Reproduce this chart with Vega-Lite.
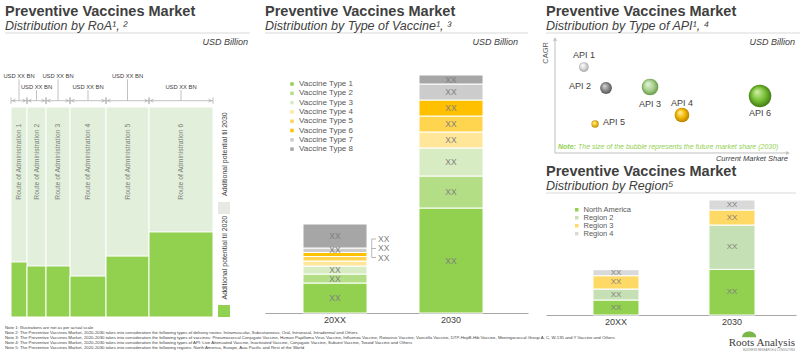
{
  "$schema": "https://vega.github.io/schema/vega-lite/v6.json",
  "background": "#ffffff",
  "padding": {"left": 3, "top": 3, "right": 0, "bottom": 0},
  "spacing": 0,
  "resolve": {"scale": {"color": "independent"}, "legend": {"color": "independent"}},
  "config": {
    "view": {"stroke": null},
    "font": "Liberation Sans",
    "title": {"anchor": "start", "frame": "group", "font": "Liberation Sans", "fontSize": 14.5, "fontWeight": "bold", "color": "#404040", "subtitleFont": "Liberation Sans", "subtitleFontSize": 12.5, "subtitleFontStyle": "italic", "subtitleColor": "#404040", "subtitlePadding": 1, "offset": -1},
    "legend": {"labelFont": "Liberation Sans", "padding": 0}
  },
  "vconcat": [
    {
      "spacing": 13,
      "resolve": {"scale": {"color": "independent"}, "legend": {"color": "independent"}},
      "hconcat": [
        {
          "width": 245,
          "height": 284,
          "title": {"text": "Preventive Vaccines Market", "subtitle": "Distribution by RoA¹, ²"},
          "data": {"values": [
            {"route": "Route of Administration 1", "market_size": 16, "potential_2030": 100, "share_2020": 26.2},
            {"route": "Route of Administration 2", "market_size": 19, "potential_2030": 100, "share_2020": 24.3},
            {"route": "Route of Administration 3", "market_size": 24, "potential_2030": 100, "share_2020": 24.3},
            {"route": "Route of Administration 4", "market_size": 36, "potential_2030": 100, "share_2020": 19.5},
            {"route": "Route of Administration 5", "market_size": 43, "potential_2030": 100, "share_2020": 29.0},
            {"route": "Route of Administration 6", "market_size": 64, "potential_2030": 100, "share_2020": 40.5}
          ]},
          "transform": [
            {"stack": "market_size", "groupby": [], "sort": [{"field": "route", "order": "ascending"}], "as": ["x0", "x1"]},
            {"calculate": "(datum.x0 + datum.x1) / 2", "as": "xmid"}
          ],
          "layer": [
            {"mark": {"type": "rect", "color": "#e2efda", "stroke": "#ffffff", "strokeWidth": 1},
             "encoding": {
               "x": {"field": "x0", "type": "quantitative", "scale": {"domain": [-6, 239], "nice": false, "zero": false}, "axis": null},
               "x2": {"field": "x1"},
               "y": {"field": "potential_2030", "type": "quantitative", "scale": {"domain": [0, 135.24], "nice": false, "zero": false}, "axis": null},
               "y2": {"datum": 0}}},
            {"mark": {"type": "rect", "color": "#92d050", "stroke": "#ffffff", "strokeWidth": 1},
             "encoding": {
               "x": {"field": "x0", "type": "quantitative", "axis": null},
               "x2": {"field": "x1"},
               "y": {"field": "share_2020", "type": "quantitative", "axis": null},
               "y2": {"datum": 0}}},
            {"mark": {"type": "text", "angle": 270, "align": "right", "baseline": "middle", "fontSize": 6.8, "color": "#808080"},
             "encoding": {
               "x": {"field": "xmid", "type": "quantitative", "axis": null},
               "y": {"datum": 92, "type": "quantitative", "axis": null},
               "text": {"field": "route"}}},
            {"mark": {"type": "rule", "color": "#a6a6a6", "strokeWidth": 0.7},
             "encoding": {
               "x": {"field": "x0", "type": "quantitative", "axis": null},
               "x2": {"field": "x1"},
               "y": {"datum": 103, "type": "quantitative", "axis": null}}},
            {"mark": {"type": "rule", "color": "#a6a6a6", "strokeWidth": 0.7},
             "encoding": {
               "x": {"field": "x0", "type": "quantitative", "axis": null},
               "y": {"datum": 101.4, "type": "quantitative", "axis": null},
               "y2": {"datum": 104.6}}},
            {"mark": {"type": "rule", "color": "#a6a6a6", "strokeWidth": 0.7},
             "encoding": {
               "x": {"field": "x1", "type": "quantitative", "axis": null},
               "y": {"datum": 101.4, "type": "quantitative", "axis": null},
               "y2": {"datum": 104.6}}},
            {"mark": {"type": "point", "shape": "M1,-1L-1,0L1,1", "filled": false, "opacity": 1, "size": 9, "stroke": "#a6a6a6", "strokeWidth": 0.7, "xOffset": 3},
             "encoding": {
               "x": {"field": "x0", "type": "quantitative", "axis": null},
               "y": {"datum": 103, "type": "quantitative", "axis": null}}},
            {"mark": {"type": "point", "shape": "M-1,-1L1,0L-1,1", "filled": false, "opacity": 1, "size": 9, "stroke": "#a6a6a6", "strokeWidth": 0.7, "xOffset": -3},
             "encoding": {
               "x": {"field": "x1", "type": "quantitative", "axis": null},
               "y": {"datum": 103, "type": "quantitative", "axis": null}}},
            {"transform": [{"filter": "indexof(['Route of Administration 1','Route of Administration 3','Route of Administration 5'], datum.route) >= 0"}],
             "mark": {"type": "rule", "color": "#a6a6a6", "strokeWidth": 0.7},
             "encoding": {
               "x": {"field": "xmid", "type": "quantitative", "axis": null},
               "y": {"datum": 103, "type": "quantitative", "axis": null},
               "y2": {"datum": 113.2}}},
            {"transform": [{"filter": "indexof(['Route of Administration 1','Route of Administration 3','Route of Administration 5'], datum.route) < 0"}],
             "mark": {"type": "rule", "color": "#a6a6a6", "strokeWidth": 0.7},
             "encoding": {
               "x": {"field": "xmid", "type": "quantitative", "axis": null},
               "y": {"datum": 103, "type": "quantitative", "axis": null},
               "y2": {"datum": 108}}},
            {"transform": [{"filter": "indexof(['Route of Administration 1','Route of Administration 3','Route of Administration 5'], datum.route) >= 0"}],
             "mark": {"type": "text", "text": "USD XX BN", "fontSize": 5.8, "color": "#404040", "baseline": "middle"},
             "encoding": {
               "x": {"field": "xmid", "type": "quantitative", "axis": null},
               "y": {"datum": 114.8, "type": "quantitative", "axis": null}}},
            {"transform": [{"filter": "indexof(['Route of Administration 1','Route of Administration 3','Route of Administration 5'], datum.route) < 0"}],
             "mark": {"type": "text", "text": "USD XX BN", "fontSize": 5.8, "color": "#404040", "baseline": "middle"},
             "encoding": {
               "x": {"field": "xmid", "type": "quantitative", "axis": null},
               "y": {"datum": 109.5, "type": "quantitative", "axis": null}}},
            {"data": {"values": [{}]},
             "mark": {"type": "rect", "color": "#e7e9e4"},
             "encoding": {
               "x": {"datum": 207, "type": "quantitative", "axis": null},
               "x2": {"datum": 219},
               "y": {"datum": 49, "type": "quantitative", "axis": null},
               "y2": {"datum": 54.8}}},
            {"data": {"values": [{}]},
             "mark": {"type": "rect", "color": "#92d050"},
             "encoding": {
               "x": {"datum": 207, "type": "quantitative", "axis": null},
               "x2": {"datum": 219},
               "y": {"datum": 0, "type": "quantitative", "axis": null},
               "y2": {"datum": 5.7}}},
            {"data": {"values": [{}]},
             "mark": {"type": "text", "text": "Additional potential til 2030", "angle": 270, "align": "right", "baseline": "middle", "fontSize": 7, "color": "#404040"},
             "encoding": {
               "x": {"datum": 214, "type": "quantitative", "axis": null},
               "y": {"datum": 97.5, "type": "quantitative", "axis": null}}},
            {"data": {"values": [{}]},
             "mark": {"type": "text", "text": "Additional potential til 2020", "angle": 270, "align": "right", "baseline": "middle", "fontSize": 7, "color": "#404040"},
             "encoding": {
               "x": {"datum": 214, "type": "quantitative", "axis": null},
               "y": {"datum": 48.2, "type": "quantitative", "axis": null}}},
            {"data": {"values": [{}]},
             "mark": {"type": "rule", "color": "#d9d9d9", "strokeWidth": 1},
             "encoding": {
               "x": {"datum": -6, "type": "quantitative", "axis": null},
               "x2": {"datum": 239},
               "y": {"datum": 135.24, "type": "quantitative", "axis": null}}},
            {"data": {"values": [{}]},
             "mark": {"type": "text", "text": "USD Billion", "align": "right", "baseline": "middle", "fontSize": 9, "fontStyle": "italic", "color": "#404040", "dy": 9},
             "encoding": {
               "x": {"datum": 237, "type": "quantitative", "axis": null},
               "y": {"datum": 135.24, "type": "quantitative", "axis": null}}}
          ]
        },
        {
          "width": 263,
          "height": 280,
          "title": {"text": "Preventive Vaccines Market", "subtitle": "Distribution by Type of Vaccine¹, ³"},
          "layer": [
            {
              "data": {"values": [
                {"year": "20XX", "type": "Vaccine Type 1", "value": 30},
                {"year": "20XX", "type": "Vaccine Type 2", "value": 9},
                {"year": "20XX", "type": "Vaccine Type 3", "value": 8},
                {"year": "20XX", "type": "Vaccine Type 4", "value": 5},
                {"year": "20XX", "type": "Vaccine Type 5", "value": 4.5},
                {"year": "20XX", "type": "Vaccine Type 6", "value": 4},
                {"year": "20XX", "type": "Vaccine Type 7", "value": 4.5},
                {"year": "20XX", "type": "Vaccine Type 8", "value": 24},
                {"year": "2030", "type": "Vaccine Type 1", "value": 105},
                {"year": "2030", "type": "Vaccine Type 2", "value": 32},
                {"year": "2030", "type": "Vaccine Type 3", "value": 28},
                {"year": "2030", "type": "Vaccine Type 4", "value": 16},
                {"year": "2030", "type": "Vaccine Type 5", "value": 16},
                {"year": "2030", "type": "Vaccine Type 6", "value": 16},
                {"year": "2030", "type": "Vaccine Type 7", "value": 16},
                {"year": "2030", "type": "Vaccine Type 8", "value": 9}
              ]},
              "transform": [
                {"stack": "value", "groupby": ["year"], "sort": [{"field": "type", "order": "ascending"}], "as": ["y0", "y1"]},
                {"calculate": "(datum.y0 + datum.y1) / 2", "as": "ymid"}
              ],
              "layer": [
                {"mark": {"type": "bar", "stroke": "#ffffff", "strokeWidth": 1},
                 "encoding": {
                   "x": {"field": "year", "type": "nominal", "sort": ["20XX", "2030"], "scale": {"paddingInner": 0.448, "paddingOuter": 0.3576, "align": 0.458},
                         "axis": {"title": null, "domain": true, "domainColor": "#a6a6a6", "ticks": false, "labelAngle": 0, "labelFont": "Liberation Sans", "labelFontSize": 9, "labelColor": "#404040", "labelPadding": 2.5}},
                   "y": {"field": "y0", "type": "quantitative", "scale": {"domain": [0, 280], "nice": false, "zero": false}, "axis": null},
                   "y2": {"field": "y1"},
                   "color": {"field": "type", "type": "nominal",
                     "scale": {"domain": ["Vaccine Type 1", "Vaccine Type 2", "Vaccine Type 3", "Vaccine Type 4", "Vaccine Type 5", "Vaccine Type 6", "Vaccine Type 7", "Vaccine Type 8"],
                               "range": ["#92d050", "#b4de86", "#d8ecc4", "#ffe699", "#ffd54f", "#ffc000", "#cccccc", "#a6a6a6"]},
                     "legend": {"title": null, "orient": "none", "legendX": 23, "legendY": 47, "symbolType": "square", "symbolSize": 12, "symbolStrokeWidth": 0, "labelFontSize": 8, "labelColor": "#595959", "rowPadding": 1.3, "labelOffset": 3, "padding": 0}}}},
                {"transform": [{"filter": "datum.year == '2030' || indexof(['Vaccine Type 4','Vaccine Type 5','Vaccine Type 6'], datum.type) < 0"}],
                 "mark": {"type": "text", "text": "XX", "fontSize": 8.5, "color": "#7f7f7f", "baseline": "middle"},
                 "encoding": {
                   "x": {"field": "year", "type": "nominal", "sort": ["20XX", "2030"]},
                   "y": {"field": "ymid", "type": "quantitative", "axis": null}}}
              ]
            },
            {"data": {"values": [{}]},
             "mark": {"type": "rule", "color": "#d9d9d9", "strokeWidth": 1},
             "encoding": {
               "x": {"value": 0},
               "x2": {"value": "width"},
               "y": {"datum": 280, "type": "quantitative", "axis": null}}},
            {"data": {"values": [{}]},
             "mark": {"type": "text", "text": "USD Billion", "align": "right", "baseline": "middle", "fontSize": 9, "fontStyle": "italic", "color": "#404040", "dy": 9, "dx": -10},
             "encoding": {
               "x": {"value": "width"},
               "y": {"datum": 280, "type": "quantitative", "axis": null}}},
            {"data": {"values": [{}]},
             "mark": {"type": "rule", "color": "#a6a6a6", "strokeWidth": 0.8, "xOffset": 36.7},
             "encoding": {
               "x": {"datum": "20XX", "type": "nominal"},
               "y": {"datum": 55.5, "type": "quantitative", "axis": null},
               "y2": {"datum": 74}}},
            {"data": {"values": [{}]},
             "mark": {"type": "rule", "color": "#a6a6a6", "strokeWidth": 0.8, "xOffset": 36.7, "x2Offset": 41},
             "encoding": {
               "x": {"datum": "20XX", "type": "nominal"},
               "x2": {"datum": "20XX"},
               "y": {"datum": 74, "type": "quantitative", "axis": null}}},
            {"data": {"values": [{}]},
             "mark": {"type": "rule", "color": "#a6a6a6", "strokeWidth": 0.8, "xOffset": 36.7, "x2Offset": 41},
             "encoding": {
               "x": {"datum": "20XX", "type": "nominal"},
               "x2": {"datum": "20XX"},
               "y": {"datum": 64.5, "type": "quantitative", "axis": null}}},
            {"data": {"values": [{}]},
             "mark": {"type": "rule", "color": "#a6a6a6", "strokeWidth": 0.8, "xOffset": 36.7, "x2Offset": 41},
             "encoding": {
               "x": {"datum": "20XX", "type": "nominal"},
               "x2": {"datum": "20XX"},
               "y": {"datum": 55.5, "type": "quantitative", "axis": null}}},
            {"data": {"values": [{}]},
             "mark": {"type": "text", "text": "XX\nXX\nXX", "lineBreak": "\n", "lineHeight": 9.3, "align": "left", "baseline": "alphabetic", "fontSize": 8.5, "color": "#7f7f7f", "dx": 43},
             "encoding": {
               "x": {"datum": "20XX", "type": "nominal"},
               "y": {"datum": 71, "type": "quantitative", "axis": null}}}
          ]
        },
        {
          "spacing": 0,
          "resolve": {"scale": {"color": "independent"}, "legend": {"color": "independent"}},
          "vconcat": [
            {
              "width": 252,
              "height": 128,
              "title": {"text": "Preventive Vaccines Market", "subtitle": "Distribution by Type of API¹, ⁴"},
              "data": {"values": [
                {"api": "API 1", "current_share": 12.4, "cagr": 75.4, "share_2030": 7.5},
                {"api": "API 2", "current_share": 21.9, "cagr": 57.0, "share_2030": 11},
                {"api": "API 3", "current_share": 40.8, "cagr": 57.9, "share_2030": 22},
                {"api": "API 4", "current_share": 54.5, "cagr": 33.3, "share_2030": 17},
                {"api": "API 5", "current_share": 17.2, "cagr": 25.4, "share_2030": 4.3},
                {"api": "API 6", "current_share": 88.0, "cagr": 50.0, "share_2030": 40}
              ]},
              "layer": [
                {"data": {"values": [{}]},
                 "mark": {"type": "rule", "color": "#d9d9d9", "strokeWidth": 1},
                 "encoding": {
                   "x": {"datum": -3.86, "type": "quantitative", "scale": {"domain": [-3.86, 104.29], "nice": false, "zero": false}, "axis": null},
                   "x2": {"datum": 106.4},
                   "y": {"datum": 105.26, "type": "quantitative", "scale": {"domain": [-7.02, 105.26], "nice": false, "zero": false}, "axis": null}}},
                {"data": {"values": [{}]},
                 "mark": {"type": "text", "text": "USD Billion", "align": "right", "baseline": "middle", "fontSize": 9, "fontStyle": "italic", "color": "#404040", "dy": 9, "dx": -3},
                 "encoding": {
                   "x": {"datum": 104.29, "type": "quantitative", "axis": null},
                   "y": {"datum": 105.26, "type": "quantitative", "axis": null}}},
                {"data": {"values": [{}]},
                 "mark": {"type": "rule", "color": "#bfbfbf", "strokeWidth": 1},
                 "encoding": {
                   "x": {"datum": 0, "type": "quantitative", "axis": null},
                   "y": {"datum": 0, "type": "quantitative", "axis": null},
                   "y2": {"datum": 100}}},
                {"data": {"values": [{}]},
                 "mark": {"type": "rule", "color": "#bfbfbf", "strokeWidth": 1},
                 "encoding": {
                   "x": {"datum": 0, "type": "quantitative", "axis": null},
                   "x2": {"datum": 100},
                   "y": {"datum": 0, "type": "quantitative", "axis": null}}},
                {"data": {"values": [{}]},
                 "mark": {"type": "point", "shape": "triangle-up", "filled": true, "opacity": 1, "size": 18, "color": "#bfbfbf"},
                 "encoding": {
                   "x": {"datum": 0, "type": "quantitative", "axis": null},
                   "y": {"datum": 100, "type": "quantitative", "axis": null}}},
                {"data": {"values": [{}]},
                 "mark": {"type": "point", "shape": "triangle-right", "filled": true, "opacity": 1, "size": 18, "color": "#bfbfbf"},
                 "encoding": {
                   "x": {"datum": 100, "type": "quantitative", "axis": null},
                   "y": {"datum": 0, "type": "quantitative", "axis": null}}},
                {"data": {"values": [{}]},
                 "mark": {"type": "text", "text": "CAGR", "angle": 270, "align": "right", "baseline": "middle", "fontSize": 7.5, "color": "#595959", "dx": -3, "dy": -8.5},
                 "encoding": {
                   "x": {"datum": 0, "type": "quantitative", "axis": null},
                   "y": {"datum": 100, "type": "quantitative", "axis": null}}},
                {"data": {"values": [{}]},
                 "mark": {"type": "text", "text": "Note:", "align": "left", "baseline": "middle", "fontSize": 7, "fontStyle": "italic", "fontWeight": "bold", "color": "#92d050"},
                 "encoding": {
                   "x": {"datum": 1.3, "type": "quantitative", "axis": null},
                   "y": {"datum": 5, "type": "quantitative", "axis": null}}},
                {"data": {"values": [{}]},
                 "mark": {"type": "text", "text": "The size of the bubble represents the future market share (2030)", "align": "left", "baseline": "middle", "fontSize": 7, "fontStyle": "italic", "color": "#92d050", "dx": 20},
                 "encoding": {
                   "x": {"datum": 1.3, "type": "quantitative", "axis": null},
                   "y": {"datum": 5, "type": "quantitative", "axis": null}}},
                {"data": {"values": [{}]},
                 "mark": {"type": "text", "text": "Current Market Share", "align": "right", "baseline": "middle", "fontSize": 7.5, "fontStyle": "italic", "color": "#404040"},
                 "encoding": {
                   "x": {"datum": 100, "type": "quantitative", "axis": null},
                   "y": {"datum": -5.3, "type": "quantitative", "axis": null}}},
                {"transform": [{"filter": "datum.api == 'API 1'"}],
                 "mark": {"type": "point", "filled": true, "opacity": 1, "color": {"gradient": "radial", "x1": 0.35, "y1": 0.3, "r1": 0, "x2": 0.5, "y2": 0.5, "r2": 0.55, "stops": [{"offset": 0, "color": "#ffffff"}, {"offset": 0.55, "color": "#d9d9d9"}, {"offset": 1, "color": "#9a9a9a"}]}},
                 "encoding": {
                   "x": {"field": "current_share", "type": "quantitative", "axis": null},
                   "y": {"field": "cagr", "type": "quantitative", "axis": null},
                   "size": {"field": "share_2030", "type": "quantitative", "scale": {"domain": [0, 40], "range": [0, 506]}, "legend": null}}},
                {"transform": [{"filter": "datum.api == 'API 2'"}],
                 "mark": {"type": "point", "filled": true, "opacity": 1, "color": {"gradient": "radial", "x1": 0.35, "y1": 0.3, "r1": 0, "x2": 0.5, "y2": 0.5, "r2": 0.55, "stops": [{"offset": 0, "color": "#d9d9d9"}, {"offset": 0.55, "color": "#8c8c8c"}, {"offset": 1, "color": "#4d4d4d"}]}},
                 "encoding": {
                   "x": {"field": "current_share", "type": "quantitative", "axis": null},
                   "y": {"field": "cagr", "type": "quantitative", "axis": null},
                   "size": {"field": "share_2030", "type": "quantitative", "legend": null}}},
                {"transform": [{"filter": "datum.api == 'API 3'"}],
                 "mark": {"type": "point", "filled": true, "opacity": 1, "color": {"gradient": "radial", "x1": 0.35, "y1": 0.3, "r1": 0, "x2": 0.5, "y2": 0.5, "r2": 0.55, "stops": [{"offset": 0, "color": "#e9f5df"}, {"offset": 0.55, "color": "#a9d18e"}, {"offset": 1, "color": "#5e8f3e"}]}},
                 "encoding": {
                   "x": {"field": "current_share", "type": "quantitative", "axis": null},
                   "y": {"field": "cagr", "type": "quantitative", "axis": null},
                   "size": {"field": "share_2030", "type": "quantitative", "legend": null}}},
                {"transform": [{"filter": "datum.api == 'API 4'"}],
                 "mark": {"type": "point", "filled": true, "opacity": 1, "color": {"gradient": "radial", "x1": 0.35, "y1": 0.3, "r1": 0, "x2": 0.5, "y2": 0.5, "r2": 0.55, "stops": [{"offset": 0, "color": "#fff4b0"}, {"offset": 0.55, "color": "#f2b600"}, {"offset": 1, "color": "#a87800"}]}},
                 "encoding": {
                   "x": {"field": "current_share", "type": "quantitative", "axis": null},
                   "y": {"field": "cagr", "type": "quantitative", "axis": null},
                   "size": {"field": "share_2030", "type": "quantitative", "legend": null}}},
                {"transform": [{"filter": "datum.api == 'API 5'"}],
                 "mark": {"type": "point", "filled": true, "opacity": 1, "color": {"gradient": "radial", "x1": 0.35, "y1": 0.3, "r1": 0, "x2": 0.5, "y2": 0.5, "r2": 0.55, "stops": [{"offset": 0, "color": "#fff4b0"}, {"offset": 0.55, "color": "#f0c020"}, {"offset": 1, "color": "#a88000"}]}},
                 "encoding": {
                   "x": {"field": "current_share", "type": "quantitative", "axis": null},
                   "y": {"field": "cagr", "type": "quantitative", "axis": null},
                   "size": {"field": "share_2030", "type": "quantitative", "legend": null}}},
                {"transform": [{"filter": "datum.api == 'API 6'"}],
                 "mark": {"type": "point", "filled": true, "opacity": 1, "color": {"gradient": "radial", "x1": 0.35, "y1": 0.3, "r1": 0, "x2": 0.5, "y2": 0.5, "r2": 0.55, "stops": [{"offset": 0, "color": "#d5f0b0"}, {"offset": 0.55, "color": "#78c034"}, {"offset": 1, "color": "#3a7010"}]}},
                 "encoding": {
                   "x": {"field": "current_share", "type": "quantitative", "axis": null},
                   "y": {"field": "cagr", "type": "quantitative", "axis": null},
                   "size": {"field": "share_2030", "type": "quantitative", "legend": null}}},
                {"transform": [{"filter": "datum.api == 'API 1' || datum.api == 'API 4'"}],
                 "mark": {"type": "text", "fontSize": 9, "color": "#404040", "baseline": "middle", "dy": -12.5},
                 "encoding": {
                   "x": {"field": "current_share", "type": "quantitative", "axis": null},
                   "y": {"field": "cagr", "type": "quantitative", "axis": null},
                   "text": {"field": "api"}}},
                {"transform": [{"filter": "datum.api == 'API 3' || datum.api == 'API 6'"}],
                 "mark": {"type": "text", "fontSize": 9, "color": "#404040", "baseline": "middle", "dy": 17.5},
                 "encoding": {
                   "x": {"field": "current_share", "type": "quantitative", "axis": null},
                   "y": {"field": "cagr", "type": "quantitative", "axis": null},
                   "text": {"field": "api"}}},
                {"transform": [{"filter": "datum.api == 'API 2'"}],
                 "mark": {"type": "text", "fontSize": 9, "color": "#404040", "baseline": "middle", "align": "right", "dx": -15, "dy": -2},
                 "encoding": {
                   "x": {"field": "current_share", "type": "quantitative", "axis": null},
                   "y": {"field": "cagr", "type": "quantitative", "axis": null},
                   "text": {"field": "api"}}},
                {"transform": [{"filter": "datum.api == 'API 5'"}],
                 "mark": {"type": "text", "fontSize": 9, "color": "#404040", "baseline": "middle", "align": "left", "dx": 8, "dy": -2},
                 "encoding": {
                   "x": {"field": "current_share", "type": "quantitative", "axis": null},
                   "y": {"field": "cagr", "type": "quantitative", "axis": null},
                   "text": {"field": "api"}}}
              ]
            },
            {
              "width": 250,
              "height": 122,
              "title": {"text": "Preventive Vaccines Market", "subtitle": "Distribution by Region⁵"},
              "layer": [
                {
                  "data": {"values": [
                    {"year": "20XX", "region": "North America", "value": 15},
                    {"year": "20XX", "region": "Region 2", "value": 11},
                    {"year": "20XX", "region": "Region 3", "value": 13.3},
                    {"year": "20XX", "region": "Region 4", "value": 6},
                    {"year": "2030", "region": "North America", "value": 45.7},
                    {"year": "2030", "region": "Region 2", "value": 44.3},
                    {"year": "2030", "region": "Region 3", "value": 15},
                    {"year": "2030", "region": "Region 4", "value": 10}
                  ]},
                  "transform": [
                    {"stack": "value", "groupby": ["year"], "sort": [{"field": "region", "order": "ascending"}], "as": ["y0", "y1"]},
                    {"calculate": "(datum.y0 + datum.y1) / 2", "as": "ymid"}
                  ],
                  "layer": [
                    {"mark": {"type": "bar", "stroke": "#ffffff", "strokeWidth": 1},
                     "encoding": {
                       "x": {"field": "year", "type": "nominal", "sort": ["20XX", "2030"], "scale": {"paddingInner": 0.6034, "paddingOuter": 0.379, "align": 0.534},
                             "axis": {"title": null, "domain": true, "domainColor": "#a6a6a6", "ticks": false, "labelAngle": 0, "labelFont": "Liberation Sans", "labelFontSize": 9, "labelColor": "#404040", "labelPadding": 2}},
                       "y": {"field": "y0", "type": "quantitative", "scale": {"domain": [0, 122], "nice": false, "zero": false}, "axis": null},
                       "y2": {"field": "y1"},
                       "color": {"field": "region", "type": "nominal",
                         "scale": {"domain": ["North America", "Region 2", "Region 3", "Region 4"], "range": ["#92d050", "#c5e0b4", "#ffd966", "#d9d9d9"]},
                         "legend": {"title": null, "orient": "none", "legendX": 27, "legendY": 13, "symbolType": "square", "symbolSize": 12, "symbolStrokeWidth": 0, "labelFontSize": 7.5, "labelColor": "#595959", "rowPadding": -1.5, "labelOffset": 3, "padding": 0}}}},
                    {"mark": {"type": "text", "text": "XX", "fontSize": 8, "color": "#7f7f7f", "baseline": "middle"},
                     "encoding": {
                       "x": {"field": "year", "type": "nominal", "sort": ["20XX", "2030"]},
                       "y": {"field": "ymid", "type": "quantitative", "axis": null}}}
                  ]
                },
                {"data": {"values": [{}]},
                 "mark": {"type": "rule", "color": "#d9d9d9", "strokeWidth": 1},
                 "encoding": {
                   "x": {"value": 0},
                   "x2": {"value": "width"},
                   "y": {"datum": 122, "type": "quantitative", "axis": null}}}
              ]
            }
          ]
        }
      ]
    },
    {
      "width": 790,
      "height": 24,
      "data": {"values": [
        {"n": 1, "note": "Note 1: Illustrations are not as per actual scale"},
        {"n": 2, "note": "Note 2: The Preventive Vaccines Market, 2020-2030 takes into consideration the following types of delivery routes: Intramuscular, Subcutaneous, Oral, Intranasal, Intradermal and Others"},
        {"n": 3, "note": "Note 3: The Preventive Vaccines Market, 2020-2030 takes into consideration the following types of vaccines: Pneumococcal Conjugate Vaccine, Human Papilloma Virus Vaccine, Influenza Vaccine, Rotavirus Vaccine, Varicella Vaccine, DTP-HepB-Hib Vaccine, Meningococcal Group A, C, W-135 and Y Vaccine and Others"},
        {"n": 4, "note": "Note 4: The Preventive Vaccines Market, 2020-2030 takes into consideration the following types of API: Live Attenuated Vaccine, Inactivated Vaccine, Conjugate Vaccine, Subunit Vaccine, Toxoid Vaccine and Others"},
        {"n": 5, "note": "Note 5: The Preventive Vaccines Market, 2020-2030 takes into consideration the following regions: North America, Europe, Asia Pacific and Rest of the World"}
      ]},
      "layer": [
        {"mark": {"type": "text", "align": "left", "baseline": "middle", "fontSize": 4.3, "color": "#404040"},
         "encoding": {
           "x": {"datum": 0, "type": "quantitative", "scale": {"domain": [0, 1], "nice": false, "zero": false}, "axis": null},
           "y": {"field": "n", "type": "quantitative", "scale": {"domain": [5.5, 0.5], "nice": false, "zero": false}, "axis": null},
           "text": {"field": "note"}}},
        {"data": {"values": [{}]},
         "mark": {"type": "text", "text": "Roots Analysis", "font": "Liberation Serif", "align": "right", "baseline": "middle", "fontSize": 11, "color": "#404040"},
         "encoding": {
           "x": {"datum": 1, "type": "quantitative", "axis": null},
           "y": {"datum": 4, "type": "quantitative", "axis": null}}},
        {"data": {"values": [{}]},
         "mark": {"type": "text", "text": "BUSINESS RESEARCH & CONSULTING", "align": "right", "baseline": "middle", "fontSize": 2.8, "letterSpacing": 0.3, "color": "#7f7f7f"},
         "encoding": {
           "x": {"datum": 1, "type": "quantitative", "axis": null},
           "y": {"datum": 5.5, "type": "quantitative", "axis": null}}},
        {"data": {"values": [{}]},
         "mark": {"type": "point", "shape": "M-1,0.3C-1,-0.8,1,-0.8,1,0.3Z", "filled": true, "opacity": 1, "size": 200, "color": "#7ab648"},
         "encoding": {
           "x": {"datum": 0.942, "type": "quantitative", "axis": null},
           "y": {"datum": 2.4, "type": "quantitative", "axis": null}}}
      ]
    }
  ]
}
